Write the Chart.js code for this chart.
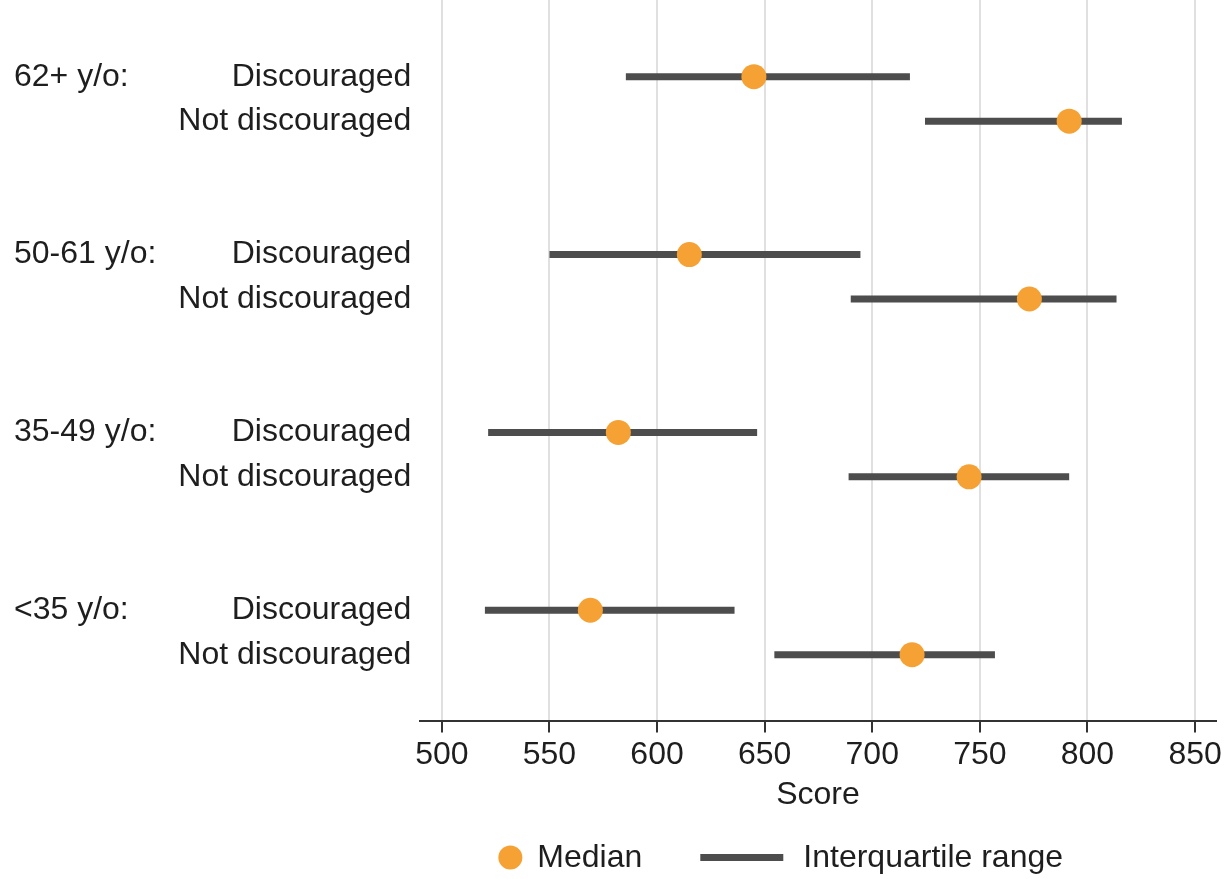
<!DOCTYPE html>
<html>
<head>
<meta charset="utf-8">
<script src="https://cdn.jsdelivr.net/npm/chart.js@4.4.1/dist/chart.umd.min.js"></script>
<style>
  html, body { margin: 0; padding: 0; background: #ffffff; }
  #wrap { width: 1225px; height: 879px; }
</style>
</head>
<body>
<div id="wrap"><canvas id="chart" width="1225" height="879"></canvas></div>
<script>
// Age groups (top to bottom) and the two survey answers within each group
const ageGroups = ['62+ y/o:', '50-61 y/o:', '35-49 y/o:', '<35 y/o:'];
const statuses = ['Discouraged', 'Not discouraged'];

// Score quartiles per age group, as [discouraged, not discouraged]
const lowerQuartile = [[585.5, 724.5], [550, 690], [521.5, 689], [520, 654.5]];
const medianScore   = [[645, 791.5], [615, 773], [582, 745], [569, 718.5]];
const upperQuartile = [[717.5, 816], [694.5, 813.5], [646.5, 791.5], [636, 757]];

const scoreTicks = [500, 550, 600, 650, 700, 750, 800, 850];

const ORANGE = '#f5a133';
const DARK = '#4d4d4d';
const TEXT = '#1e1e1e';

// each age group takes four row slots: two answers plus a blank gap
const rowOf = (g, s) => g * 4 + s;
const answerRows = [];
ageGroups.forEach((_, g) => statuses.forEach((_, s) => answerRows.push(rowOf(g, s))));
const groupRows = ageGroups.map((_, g) => rowOf(g, 0));

const medianData = [];
const rangeSets = [];
ageGroups.forEach((_, g) => {
  statuses.forEach((_, s) => {
    const y = rowOf(g, s);
    medianData.push({ x: medianScore[g][s], y });
    rangeSets.push({
      type: 'line',
      label: 'Interquartile range',
      data: [{ x: lowerQuartile[g][s], y }, { x: upperQuartile[g][s], y }],
      borderColor: DARK,
      backgroundColor: DARK,
      borderWidth: 7,
      borderCapStyle: 'butt',
      pointRadius: 0,
      pointHoverRadius: 0,
      showLine: true,
      order: 1
    });
  });
});

Chart.defaults.font.family = "'Liberation Sans', Arial, Helvetica, sans-serif";
Chart.defaults.font.size = 32;
Chart.defaults.color = TEXT;

// Key row under the axis title: a dot for the median, a bar for the IQR
const keyRow = {
  id: 'keyRow',
  afterDraw(chart) {
    const { ctx, chartArea } = chart;
    const med = chart.data.datasets[0];
    const iqr = chart.data.datasets[1];
    const y = 858.5;
    let x = chartArea.left + 78;
    ctx.save();
    ctx.font = "32px 'Liberation Sans', Arial, sans-serif";
    ctx.textBaseline = 'middle';
    ctx.textAlign = 'left';
    ctx.fillStyle = med.backgroundColor;
    ctx.beginPath();
    ctx.arc(x + 12, y - 1, 12, 0, Math.PI * 2);
    ctx.fill();
    x += 24 + 15;
    ctx.fillStyle = TEXT;
    ctx.fillText(med.label, x, y);
    x += ctx.measureText(med.label).width + 58;
    ctx.strokeStyle = iqr.borderColor;
    ctx.lineWidth = iqr.borderWidth;
    ctx.lineCap = 'butt';
    ctx.beginPath();
    ctx.moveTo(x, y - 1);
    ctx.lineTo(x + 83, y - 1);
    ctx.stroke();
    x += 83 + 20;
    ctx.fillStyle = TEXT;
    ctx.fillText(iqr.label, x, y);
    ctx.restore();
  }
};

const rowMin = -1.725;
const rowMax = 14.48;

// row labels sit at inner rows, so no extra room is needed past the ends
const noEndPadding = axis => { axis.paddingTop = 0; axis.paddingBottom = 0; };

new Chart(document.getElementById('chart'), {
  type: 'scatter',
  data: {
    datasets: [
      {
        type: 'scatter',
        label: 'Median',
        data: medianData,
        backgroundColor: ORANGE,
        borderColor: ORANGE,
        borderWidth: 0,
        pointRadius: 12.5,
        pointHoverRadius: 12.5,
        order: 0
      },
      ...rangeSets
    ]
  },
  options: {
    responsive: false,
    animation: false,
    devicePixelRatio: 1,
    events: [],
    layout: { autoPadding: false, padding: { left: 14, right: 9, top: 0, bottom: 68 } },
    plugins: {
      legend: { display: false },
      tooltip: { enabled: false }
    },
    scales: {
      x: {
        type: 'linear',
        position: 'bottom',
        min: 490,
        max: 859.5,
        afterBuildTicks: axis => { axis.ticks = scoreTicks.map(v => ({ value: v })); },
        grid: {
          color: '#e0e0e0',
          lineWidth: 2,
          tickColor: '#333333',
          tickWidth: 2,
          tickLength: 12
        },
        border: { display: true, color: '#333333', width: 2 },
        ticks: {
          padding: 3,
          color: TEXT,
          font: { size: 32, lineHeight: 1.25 },
          maxRotation: 0,
          autoSkip: false
        },
        title: {
          display: true,
          text: 'Score',
          color: TEXT,
          font: { size: 32, lineHeight: 1 },
          padding: { top: 0.5, bottom: 0 }
        }
      },
      y: {
        type: 'linear',
        position: 'left',
        weight: 0,
        reverse: true,
        min: rowMin,
        max: rowMax,
        afterBuildTicks: axis => { axis.ticks = answerRows.map(v => ({ value: v })); },
        afterFit: noEndPadding,
        grid: { display: false, drawTicks: false },
        border: { display: false },
        ticks: {
          padding: 9,
          color: TEXT,
          autoSkip: false,
          callback: v => statuses[v % 4]
        }
      },
      yGroup: {
        axis: 'y',
        type: 'linear',
        position: 'left',
        weight: 1,
        reverse: true,
        min: rowMin,
        max: rowMax,
        afterBuildTicks: axis => { axis.ticks = groupRows.map(v => ({ value: v })); },
        afterFit: noEndPadding,
        grid: { display: false, drawTicks: false },
        border: { display: false },
        ticks: {
          padding: 6.5,
          crossAlign: 'far',
          color: TEXT,
          autoSkip: false,
          callback: v => ageGroups[v / 4]
        }
      }
    }
  },
  plugins: [keyRow]
});
</script>
</body>
</html>
